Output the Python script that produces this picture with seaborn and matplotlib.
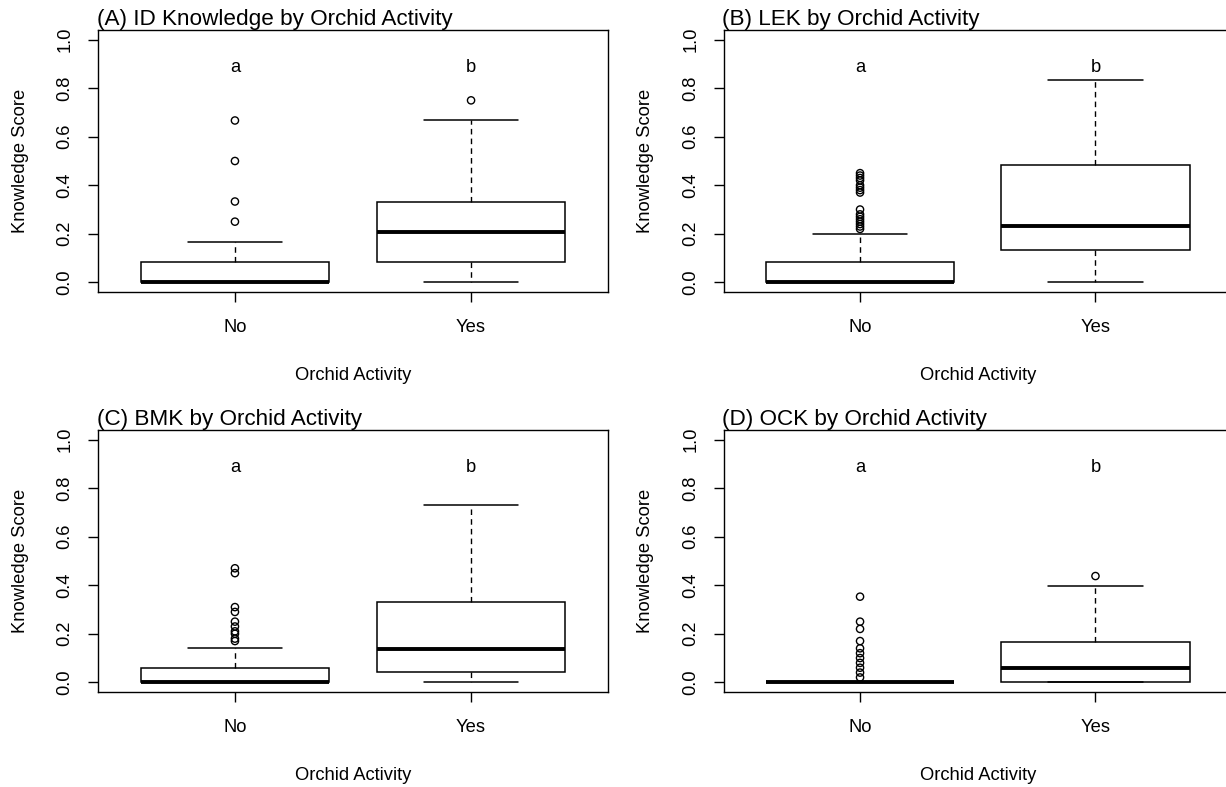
import numpy as np
import pandas as pd
import matplotlib
matplotlib.use("Agg")
import matplotlib.pyplot as plt
import seaborn as sns

# ---------------- data ----------------
groups = ["No", "Yes"]
panel_titles = ["(A) ID Knowledge by Orchid Activity",
                "(B) LEK by Orchid Activity",
                "(C) BMK by Orchid Activity",
                "(D) OCK by Orchid Activity"]
letters = ["a", "b"]
y_ticks = [0.0, 0.2, 0.4, 0.6, 0.8, 1.0]
y_tick_labels = ["0.0", "0.2", "0.4", "0.6", "0.8", "1.0"]

# five-number summaries: [lower whisker, Q1, median, Q3, upper whisker]
A_no = [0.0, 0.0, 0.0, 0.083, 0.167]
A_yes = [0.0, 0.083, 0.208, 0.333, 0.667]
B_no = [0.0, 0.0, 0.0, 0.083, 0.20]
B_yes = [0.0, 0.133, 0.233, 0.485, 0.833]
C_no = [0.0, 0.0, 0.0, 0.059, 0.143]
C_yes = [0.0, 0.042, 0.137, 0.333, 0.729]
D_no = [0.0, 0.0, 0.0, 0.0, 0.0]
D_yes = [0.0, 0.0, 0.058, 0.167, 0.396]

# outliers
A_no_out = [0.25, 0.333, 0.50, 0.667]
A_yes_out = [0.75]
B_no_out = [0.22, 0.23, 0.24, 0.25, 0.26, 0.27, 0.28, 0.30,
            0.37, 0.38, 0.39, 0.40, 0.42, 0.43, 0.44, 0.45]
B_yes_out = []
C_no_out = [0.17, 0.18, 0.20, 0.21, 0.23, 0.25, 0.29, 0.31, 0.45, 0.47]
C_yes_out = []
D_no_out = [0.02, 0.04, 0.06, 0.08, 0.10, 0.12, 0.14, 0.17, 0.22, 0.25, 0.353]
D_yes_out = [0.438]

summaries = [(A_no, A_yes), (B_no, B_yes), (C_no, C_yes), (D_no, D_yes)]
outliers = [(A_no_out, A_yes_out), (B_no_out, B_yes_out),
            (C_no_out, C_yes_out), (D_no_out, D_yes_out)]

# ---------------- styling ----------------
sns.set_style("white")
plt.rcParams["font.family"] = ["Liberation Sans", "DejaVu Sans"]
plt.rcParams["text.color"] = "black"
plt.rcParams["axes.labelcolor"] = "black"
plt.rcParams["xtick.color"] = "black"
plt.rcParams["ytick.color"] = "black"
plt.rcParams["xtick.labelcolor"] = "black"
plt.rcParams["ytick.labelcolor"] = "black"

W, H = 1226, 787
fig = plt.figure(figsize=(W / 100, H / 100), dpi=100)

# axes frames in pixel coords: left, right, top, bottom
frames = [(98, 608, 30, 292), (723.5, 1232, 30, 292),
          (98, 608, 430, 692), (723.5, 1232, 430, 692)]

fs = 13.2
for i, (l, r, t, b) in enumerate(frames):
    ax = fig.add_axes([l / W, 1 - b / H, (r - l) / W, (b - t) / H])
    no_s, yes_s = summaries[i]
    df = pd.DataFrame({
        "Orchid Activity": [groups[0]] * len(no_s) + [groups[1]] * len(yes_s),
        "Knowledge Score": no_s + yes_s,
    })
    sns.boxplot(data=df, x="Orchid Activity", y="Knowledge Score", order=groups,
                whis=(0, 100), showfliers=False, width=0.8, ax=ax,
                color="white", linecolor="black", linewidth=1.1,
                boxprops=dict(facecolor="white", edgecolor="black", linewidth=1.1),
                medianprops=dict(color="black", linewidth=2.8, solid_capstyle="butt"),
                whiskerprops=dict(color="black", linewidth=1.0, linestyle=(0, (4, 3))),
                capprops=dict(color="black", linewidth=1.1),
                capwidths=0.4)
    no_o, yes_o = outliers[i]
    odf = pd.DataFrame({
        "Orchid Activity": [groups[0]] * len(no_o) + [groups[1]] * len(yes_o),
        "Knowledge Score": no_o + yes_o,
    })
    if len(odf):
        sns.stripplot(data=odf, x="Orchid Activity", y="Knowledge Score", order=groups,
                      jitter=False, ax=ax, marker="o", size=5.2, color="black")
        for coll in ax.collections:
            coll.set_facecolor("none")
            coll.set_edgecolor("black")
            coll.set_linewidth(1.0)
    for k, lt in enumerate(letters):
        ax.text(k, 0.895, lt, ha="center", va="center_baseline", fontsize=fs,
                color="black")

    ax.set_xlim(-0.58, 1.58)
    ax.set_ylim(-0.04, 1.04)
    ax.set_yticks(y_ticks)
    ax.set_yticklabels(y_tick_labels)
    for s in ax.spines.values():
        s.set_visible(True)
        s.set_color("black")
        s.set_linewidth(1.0)
    ax.tick_params(axis="both", which="both", direction="out", length=7.5, width=1.0,
                   color="black", labelcolor="black", labelsize=fs,
                   left=True, bottom=True)
    ax.tick_params(axis="x", pad=12)
    ax.tick_params(axis="y", pad=10)
    for lab in ax.get_yticklabels():
        lab.set_rotation(90)
        lab.set_va("center")
    ax.set_xlabel("Orchid Activity", fontsize=fs, labelpad=22, color="black")
    ax.set_ylabel("Knowledge Score", fontsize=fs, labelpad=20, color="black")
    ax.set_title(panel_titles[i], loc="left", fontsize=16.2, pad=1.5, x=-0.002,
                 color="black")

fig.savefig("out.png", dpi=100)
